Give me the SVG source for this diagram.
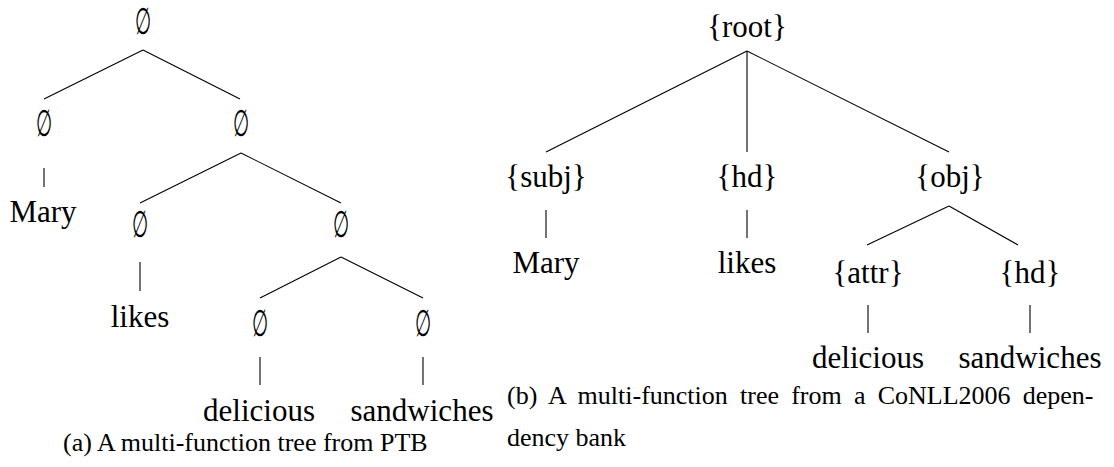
<svg xmlns="http://www.w3.org/2000/svg" width="1114" height="467" viewBox="0 0 1114 467">
  <style>
    .lbl { font-family: "Liberation Serif", "Times New Roman", serif; font-size: 31px; fill: #000; text-anchor: middle; }
    .es { font-family: "DejaVu Serif", "Liberation Serif", serif; font-size: 31px; fill: #000; text-anchor: middle; }
    .cap { font-family: "Liberation Serif", "Times New Roman", serif; font-size: 26px; fill: #000; }
    .edge { stroke: #000; stroke-width: 1.1; fill: none; }
  </style>
  <rect width="1114" height="467" fill="#fff"/>

  <!-- (a) tree with empty function sets -->
  <g id="connectors-a">
    <line class="edge" x1="143" y1="50" x2="44" y2="99"/>
    <line class="edge" x1="143" y1="50" x2="240" y2="99"/>
    <line class="edge" x1="44" y1="168" x2="44" y2="187"/>
    <line class="edge" x1="241" y1="153" x2="140" y2="203"/>
    <line class="edge" x1="241" y1="153" x2="341" y2="203"/>
    <line class="edge" x1="140" y1="262" x2="140" y2="291"/>
    <line class="edge" x1="341" y1="257" x2="260" y2="298"/>
    <line class="edge" x1="341" y1="257" x2="423" y2="298"/>
    <line class="edge" x1="260" y1="357" x2="260" y2="385"/>
    <line class="edge" x1="423" y1="357" x2="423" y2="385"/>
  </g>
  <!-- empty-set labels: narrowed, stretched glyph -->
  <g id="a-root"><text class="es" transform="translate(143,34) scale(0.6,1.2)">∅</text></g>
  <g id="a-n1"><text class="es" transform="translate(44,136) scale(0.6,1.2)">∅</text></g>
  <g id="a-n2"><text class="es" transform="translate(241,136) scale(0.6,1.2)">∅</text></g>
  <g id="a-mary"><text class="lbl" x="43" y="222">Mary</text></g>
  <g id="a-n3"><text class="es" transform="translate(140,237) scale(0.6,1.2)">∅</text></g>
  <g id="a-n4"><text class="es" transform="translate(341,237) scale(0.6,1.2)">∅</text></g>
  <g id="a-likes"><text class="lbl" x="140" y="327">likes</text></g>
  <g id="a-n5"><text class="es" transform="translate(260,336) scale(0.6,1.2)">∅</text></g>
  <g id="a-n6"><text class="es" transform="translate(423,336) scale(0.6,1.2)">∅</text></g>
  <g id="a-delicious"><text class="lbl" x="259" y="421">delicious</text></g>
  <g id="a-sandwiches"><text class="lbl" x="422" y="421">sandwiches</text></g>
  <text class="cap" x="63" y="451">(a) A multi-function tree from PTB</text>

  <!-- (b) dependency-based tree -->
  <g id="connectors-b">
    <line class="edge" x1="747" y1="51" x2="546" y2="152"/>
    <line class="edge" x1="747" y1="51" x2="747" y2="152"/>
    <line class="edge" x1="747" y1="51" x2="949" y2="152"/>
    <line class="edge" x1="546" y1="210" x2="546" y2="238"/>
    <line class="edge" x1="747" y1="210" x2="747" y2="238"/>
    <line class="edge" x1="949" y1="206" x2="867" y2="245"/>
    <line class="edge" x1="949" y1="206" x2="1018" y2="245"/>
    <line class="edge" x1="868" y1="305" x2="868" y2="333"/>
    <line class="edge" x1="1030" y1="305" x2="1030" y2="333"/>
  </g>
  <g id="b-root"><text class="lbl" x="747" y="37">{root}</text></g>
  <g id="b-subj"><text class="lbl" x="546" y="187">{subj}</text></g>
  <g id="b-hd"><text class="lbl" x="747" y="187">{hd}</text></g>
  <g id="b-obj"><text class="lbl" x="950" y="187">{obj}</text></g>
  <g id="b-mary"><text class="lbl" x="546" y="273">Mary</text></g>
  <g id="b-likes"><text class="lbl" x="747" y="273">likes</text></g>
  <g id="b-attr"><text class="lbl" x="868" y="283">{attr}</text></g>
  <g id="b-hd2"><text class="lbl" x="1030" y="283">{hd}</text></g>
  <g id="b-delicious"><text class="lbl" x="868" y="368">delicious</text></g>
  <g id="b-sandwiches"><text class="lbl" x="1030" y="368">sandwiches</text></g>
  <text class="cap" x="507" y="404" word-spacing="5.7">(b) A multi-function tree from a CoNLL2006 depen-</text>
  <text class="cap" x="507" y="446">dency bank</text>
</svg>
